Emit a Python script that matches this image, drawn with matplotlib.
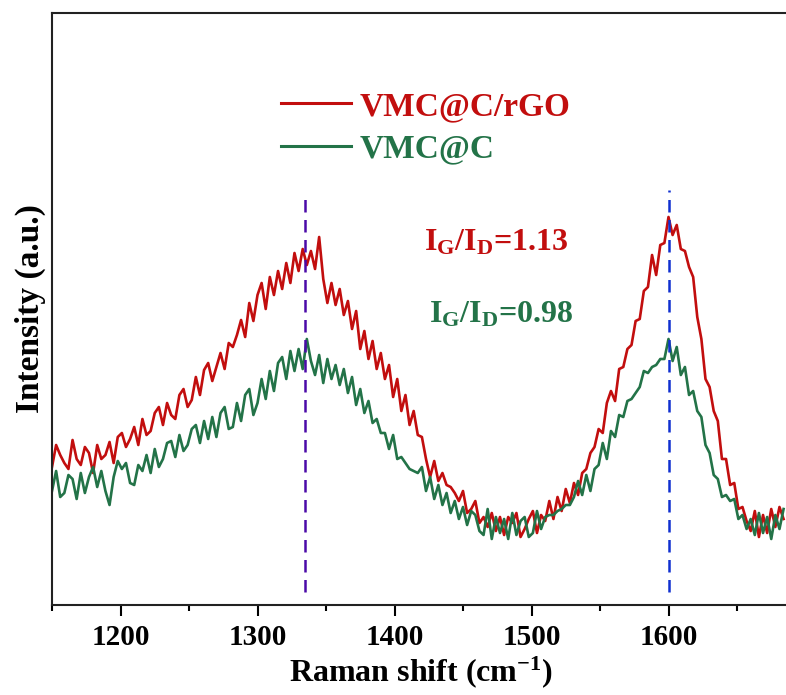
import numpy as np
import matplotlib
matplotlib.use("Agg")
import matplotlib.pyplot as plt
from matplotlib.ticker import MultipleLocator

plt.rcParams['font.family'] = ['Liberation Serif', 'DejaVu Serif']
plt.rcParams['font.weight'] = 'bold'
plt.rcParams['mathtext.fontset'] = 'custom'
plt.rcParams['mathtext.rm'] = 'Liberation Serif:bold'
plt.rcParams['mathtext.bf'] = 'Liberation Serif:bold'
plt.rcParams['mathtext.it'] = 'Liberation Serif:bold'

# Raman shift grid (cm^-1)
raman_shift = np.arange(1150, 1685, 3)

vmc_c_rgo = [
    138, 160, 150, 142, 136, 165, 146, 140, 158, 152,
    132, 160, 146, 150, 163, 142, 168, 172, 158, 166,
    178, 160, 186, 170, 174, 192, 198, 180, 202, 190,
    186, 210, 216, 198, 205, 228, 210, 235, 242, 224,
    238, 252, 236, 262, 258, 270, 285, 268, 302, 284,
    310, 322, 296, 328, 310, 334, 316, 342, 322, 352,
    334, 356, 340, 354, 336, 368, 326, 302, 322, 300,
    316, 290, 304, 276, 294, 256, 274, 246, 264, 236,
    252, 226, 240, 208, 226, 194, 210, 180, 194, 170,
    168, 146, 128, 144, 124, 132, 120, 118, 112, 104,
    114, 92, 96, 104, 82, 88, 78, 92, 74, 88,
    70, 88, 82, 92, 68, 76, 86, 94, 72, 90,
    84, 104, 86, 108, 94, 116, 102, 122, 110, 132,
    136, 152, 158, 176, 172, 202, 214, 204, 236, 238,
    256, 260, 284, 286, 314, 318, 350, 330, 360, 362,
    388, 370, 380, 356, 354, 338, 328, 288, 266, 226,
    218, 194, 184, 146, 146, 120, 122, 96, 98, 84,
    74, 94, 68, 90, 72, 96, 78, 98, 86,
]

vmc_c = [
    114, 134, 108, 112, 130, 126, 106, 132, 112, 128,
    138, 118, 134, 114, 100, 128, 144, 136, 142, 122,
    120, 140, 134, 150, 132, 156, 138, 146, 162, 164,
    148, 170, 154, 160, 176, 180, 162, 184, 166, 188,
    168, 192, 198, 176, 178, 202, 184, 210, 216, 190,
    202, 226, 206, 234, 214, 242, 248, 226, 254, 234,
    256, 236, 266, 244, 230, 250, 222, 246, 226, 240,
    220, 236, 212, 228, 200, 216, 192, 204, 182, 186,
    172, 172, 156, 170, 146, 148, 142, 136, 134, 132,
    138, 114, 128, 106, 120, 100, 112, 92, 104, 86,
    98, 80, 94, 90, 74, 70, 96, 66, 88, 72,
    86, 66, 92, 70, 84, 88, 68, 72, 94, 76,
    88, 90, 90, 94, 96, 100, 100, 108, 124, 110,
    130, 114, 136, 140, 162, 146, 174, 168, 190, 188,
    204, 206, 212, 218, 234, 232, 238, 240, 246, 246,
    266, 244, 258, 230, 238, 210, 214, 194, 188, 160,
    152, 130, 126, 108, 110, 104, 106, 86, 90, 76,
    86, 70, 92, 72, 88, 66, 90, 76, 96,
]

series_labels = ['VMC@C/rGO', 'VMC@C']
series_colors = ['#C20E0E', '#237348']

d_band = 1335
g_band = 1600
ratio_labels = [r'$\mathbf{I_G/I_D}$=1.13', r'$\mathbf{I_G/I_D}$=0.98']

fig = plt.figure(figsize=(7.86, 6.95), dpi=100)
W, H = 786, 695
ax = fig.add_axes([52 / W, 90 / H, 738 / W, 592 / H])

l1, = ax.plot(raman_shift, vmc_c_rgo, color=series_colors[0], lw=1.9)
l2, = ax.plot(raman_shift, vmc_c, color=series_colors[1], lw=1.9)

ax.vlines(d_band, 13, 412, colors='#4B0AA8', linestyles=(0, (5, 3)), lw=1.8)
ax.vlines(g_band, 13, 415, colors='#1030D0', linestyles=(0, (5, 3)), lw=1.8)

ax.set_xlim(1150, 1150 + 738 / 1.37)
ax.set_ylim(0, 592)

ax.xaxis.set_major_locator(MultipleLocator(100))
ax.xaxis.set_minor_locator(MultipleLocator(50))
ax.tick_params(axis='x', which='major', direction='out', length=8, width=1.5,
               labelsize=21, pad=6)
ax.tick_params(axis='x', which='minor', direction='out', length=4, width=1.5)
ax.set_yticks([])
for lab in ax.get_xticklabels():
    lab.set_fontweight('bold')
for sp in ax.spines.values():
    sp.set_linewidth(1.5)
    sp.set_color('#222222')

ax.set_xlabel(r'Raman shift (cm$^{\mathbf{-1}}$)', fontsize=23, fontweight='bold', labelpad=2)
ax.set_ylabel('Intensity (a.u.)', fontsize=24, fontweight='bold', labelpad=4)

leg = ax.legend([l1, l2], series_labels, loc='upper left',
                bbox_to_anchor=((281 - 52) / 738, (605 - 91) / 592),
                frameon=False, borderpad=0, borderaxespad=0,
                handlelength=2.1, handletextpad=0.25, labelspacing=0.34,
                prop={'family': 'Liberation Serif', 'weight': 'bold', 'size': 24},
                labelcolor='linecolor')
for h in leg.legend_handles:
    h.set_linewidth(2.2)

ax.text(1474, 605 - 243, ratio_labels[0], color=series_colors[0], fontsize=23,
        fontweight='bold', ha='center', va='center')
ax.text(1478, 605 - 315, ratio_labels[1], color=series_colors[1], fontsize=23,
        fontweight='bold', ha='center', va='center')

fig.savefig('out.png', dpi=100)
